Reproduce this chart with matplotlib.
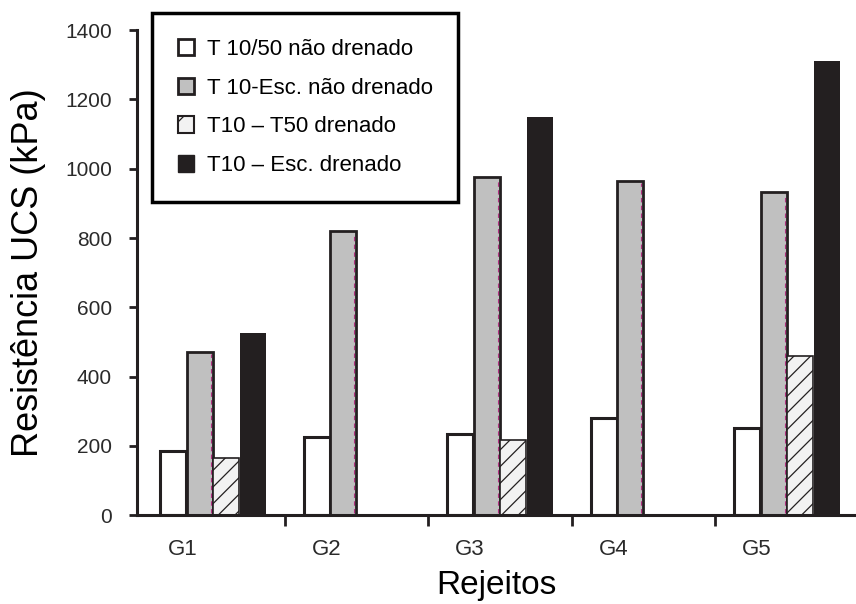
import numpy as np
import matplotlib
matplotlib.use('Agg')
import matplotlib.pyplot as plt
from matplotlib.patches import Patch

groups = ['G1', 'G2', 'G3', 'G4', 'G5']
t1050_nd = [185, 225, 235, 280, 253]
t10esc_nd = [470, 820, 975, 965, 932]
t1050_dr = [165, 0, 218, 0, 460]
t10esc_dr = [525, 0, 1150, 0, 1310]

labels = ['T 10/50 não drenado', 'T 10-Esc. não drenado',
          'T10 – T50 drenado', 'T10 – Esc. drenado']

plt.rcParams['font.family'] = ['Liberation Sans', 'DejaVu Sans']
plt.rcParams['hatch.linewidth'] = 0.9

fig = plt.figure(figsize=(8.56, 6.04), dpi=100)
ax = fig.add_axes([0.160, 0.147, 0.840, 0.803])

x = np.arange(len(groups))
w = 0.18
step = 0.185
dark = '#231f20'

ax.bar(x - 1.5 * step, t1050_nd, w, facecolor='white', edgecolor=dark, linewidth=2.2)
gray = ax.bar(x - 0.5 * step, t10esc_nd, w, facecolor='#c0c0c0', edgecolor=dark, linewidth=2.0)
ax.bar(x + 0.5 * step, t1050_dr, w, facecolor='#f2f2f2', edgecolor=dark, linewidth=1.2, hatch='//')
ax.bar(x + 1.5 * step, t10esc_dr, w, facecolor=dark, edgecolor=dark, linewidth=0)

# magenta dashed line at right edge of gray bars (as in the original)
for p in gray.patches:
    xr = p.get_x() + p.get_width() * 0.93
    ax.plot([xr, xr], [p.get_y() + 5, p.get_height() - 5], color='#b03080',
            lw=0.8, ls=(0, (4, 3)), zorder=5)

ax.set_xlim(-0.53, 4.48)
ax.set_ylim(0, 1400)
ax.set_yticks(np.arange(0, 1401, 200))

ax.set_xticks(x - 0.21)
ax.set_xticklabels(groups)
ax.set_xticks(x[:-1] + 0.5, minor=True)
ax.tick_params(axis='x', which='major', length=0, pad=17, labelsize=16, colors='#2a2a2a')
ax.tick_params(axis='x', which='minor', length=8, width=2, direction='out', color=dark)
ax.tick_params(axis='y', length=6, width=2, pad=12, labelsize=15, colors='#2a2a2a')
ax.tick_params(axis='y', color=dark)

for s in ['top', 'right']:
    ax.spines[s].set_visible(False)
for s in ['left', 'bottom']:
    ax.spines[s].set_linewidth(2.2)
    ax.spines[s].set_color(dark)

ax.set_ylabel('Resistência UCS (kPa)', fontsize=26, labelpad=14)
ax.set_xlabel('Rejeitos', fontsize=24, labelpad=7)

handles = [
    Patch(facecolor='white', edgecolor=dark, linewidth=2),
    Patch(facecolor='#c0c0c0', edgecolor=dark, linewidth=2),
    Patch(facecolor='#f2f2f2', edgecolor=dark, linewidth=1.5, hatch='/'),
    Patch(facecolor=dark, edgecolor=dark),
]
leg = ax.legend(handles, labels, loc='upper left', bbox_to_anchor=(0.021, 1.035),
                borderaxespad=0, fontsize=16, frameon=True, fancybox=False,
                edgecolor='black', handlelength=0.75, handleheight=0.75,
                handletextpad=0.55, labelspacing=0.8, borderpad=1.15)
leg.get_frame().set_linewidth(2.5)
leg.get_frame().set_alpha(1)

fig.savefig('out.png', dpi=100)
